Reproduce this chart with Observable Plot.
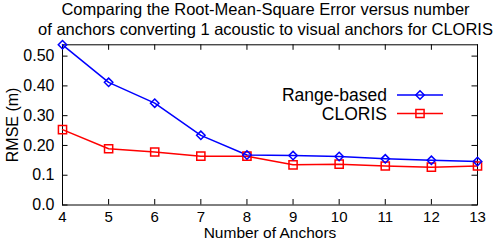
<!DOCTYPE html>
<html><head><meta charset="utf-8">
<script src="https://cdn.jsdelivr.net/npm/d3@7"></script>
<script src="https://cdn.jsdelivr.net/npm/@observablehq/plot@0.6"></script>
<style>
body{margin:0;background:#fff;font-family:"Liberation Sans",Arial,sans-serif;}
#wrap{position:relative;width:498px;height:240px;overflow:hidden;background:#fff;}
#title{position:absolute;left:0;top:-1.5px;width:465px;padding-left:33px;text-align:center;font-size:16.5px;line-height:20px;color:#000;white-space:nowrap;}
#chart{position:absolute;left:0;top:39px;}
#legend{position:absolute;left:280px;top:84px;}
</style></head><body>
<div id="wrap">
<div id="title">Comparing the Root-Mean-Square Error versus number<br>of anchors converting 1 acoustic to visual anchors for CLORIS</div>
<div id="chart"></div>
<div id="legend"></div>
</div>
<script>
const anchors = [4, 5, 6, 7, 8, 9, 10, 11, 12, 13];
const rangeBased = [0.538, 0.412, 0.342, 0.234, 0.168, 0.166, 0.163, 0.155, 0.150, 0.146];
const cloris = [0.253, 0.189, 0.178, 0.164, 0.164, 0.135, 0.137, 0.131, 0.127, 0.131];
const seriesNames = ["Range-based", "CLORIS"];
const seriesColors = ["#0000ff", "#ff0000"];
const xTicks = [4, 5, 6, 7, 8, 9, 10, 11, 12, 13];
const yTicks = [0, 0.1, 0.2, 0.3, 0.4, 0.5];
const yTickLabels = ["0.0", "0.1", "0.20", "0.30", "0.40", "0.50"];

const rows = [];
anchors.forEach((a, i) => {
  rows.push({anchors: a, rmse: rangeBased[i], series: seriesNames[0]});
  rows.push({anchors: a, rmse: cloris[i], series: seriesNames[1]});
});

const W = 498, H = 201;
const mL = 62, mR = 21, mT = 5.3, mB = 35.5;
const plotW = W - mL - mR, plotH = H - mT - mB;
const tick = 5.5;
const colorOf = s => seriesColors[seriesNames.indexOf(s)];

const chart = Plot.plot({
  width: W, height: H,
  marginLeft: mL, marginRight: mR, marginTop: mT, marginBottom: mB,
  style: {fontFamily: "'Liberation Sans', Arial, sans-serif", fontSize: "16px", background: "white", color: "black", overflow: "visible"},
  x: {domain: [4, 13]},
  y: {domain: [0, 0.538]},
  marks: [
    Plot.tickY(yTicks, {y: d => d, insetRight: plotW - tick, stroke: "black"}),
    Plot.tickY(yTicks, {y: d => d, insetLeft: plotW - tick, stroke: "black"}),
    Plot.tickX(xTicks, {x: d => d, insetTop: plotH - tick, stroke: "black"}),
    Plot.tickX(xTicks, {x: d => d, insetBottom: plotH - tick, stroke: "black"}),
    Plot.frame({stroke: "black"}),
    Plot.axisX({ticks: xTicks, tickSize: 0, tickPadding: 6, tickFormat: d => String(d), fontSize: 15, label: null}),
    Plot.axisX({ticks: [], tickSize: 0, fontSize: 15.5, label: "Number of Anchors", labelAnchor: "center", labelArrow: "none", labelOffset: 33}),
    Plot.axisY({ticks: yTicks, tickSize: 0, tickPadding: 8, tickFormat: d => yTickLabels[yTicks.indexOf(d)],
      label: "RMSE (m)", labelAnchor: "center", labelArrow: "none", labelOffset: 56}),
    Plot.line(rows, {x: "anchors", y: "rmse", z: "series", stroke: d => colorOf(d.series), strokeWidth: 1.5}),
    Plot.dot(rows.filter(d => d.series === seriesNames[1]), {x: "anchors", y: "rmse", symbol: "square2", r: 5.2, stroke: seriesColors[1], strokeWidth: 1.5, fill: "none"}),
    Plot.dot(rows.filter(d => d.series === seriesNames[0]), {x: "anchors", y: "rmse", symbol: "diamond2", r: 3.8, stroke: seriesColors[0], strokeWidth: 1.5, fill: "none"})
  ]
});
document.getElementById("chart").appendChild(chart);

// legend
const lg = d3.select("#legend").append("svg").attr("width", 180).attr("height", 44).style("overflow", "visible");
const rowY = [11, 29.5];
const symR = [3.8, 5.2];
const d3Sym = [d3.symbolDiamond2, d3.symbolSquare2];
seriesNames.forEach((name, i) => {
  const g = lg.append("g").attr("transform", `translate(0,${rowY[i]})`);
  g.append("text").attr("x", 107).attr("y", 0).attr("dy", "0.36em").attr("text-anchor", "end")
    .attr("font-family", "'Liberation Sans', Arial, sans-serif").attr("font-size", 17.5).attr("fill", "black").text(name);
  g.append("line").attr("x1", 117).attr("x2", 163).attr("y1", 0).attr("y2", 0)
    .attr("stroke", seriesColors[i]).attr("stroke-width", 1.5);
  g.append("path").attr("transform", "translate(140,0)")
    .attr("d", d3.symbol(d3Sym[i], Math.PI * symR[i] * symR[i])())
    .attr("fill", "none").attr("stroke", seriesColors[i]).attr("stroke-width", 1.5);
});
</script>
</body></html>
